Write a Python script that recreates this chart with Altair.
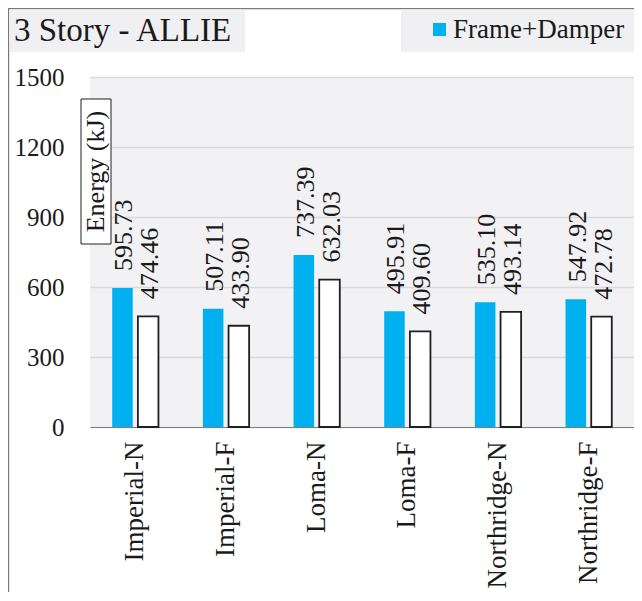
import altair as alt
import pandas as pd

categories = ["Imperial-N", "Imperial-F", "Loma-N", "Loma-F", "Northridge-N", "Northridge-F"]
frame_damper = [595.73, 507.11, 737.39, 495.91, 535.10, 547.92]
frame_only = [474.46, 433.90, 632.03, 409.60, 493.14, 472.78]
series_names = ["Frame+Damper", "Frame"]
y_ticks = [0, 300, 600, 900, 1200, 1500]
chart_title = "3 Story - ALLIE"
y_title = "Energy (kJ)"

rows = []
for c, a, b in zip(categories, frame_damper, frame_only):
    rows.append({"case": c, "series": series_names[0], "energy": a})
    rows.append({"case": c, "series": series_names[1], "energy": b})
df = pd.DataFrame(rows)
one = pd.DataFrame({"k": [0]})

FONT = "Liberation Serif"
TXT = "#1a1a1a"
W, H = 544, 350

x_enc = alt.X(
    "case:N", sort=categories,
    scale=alt.Scale(paddingInner=0.49, paddingOuter=0.245),
    axis=alt.Axis(title=None, labelAngle=270, labelFont=FONT, labelFontSize=27,
                  labelColor=TXT, labelPadding=14, ticks=False, labelLimit=300,
                  domainColor="#7f7f7f", domainWidth=1, grid=False),
)
y_enc = alt.Y(
    "energy:Q",
    scale=alt.Scale(domain=[0, 1500], nice=False),
    axis=alt.Axis(title=None, values=y_ticks, format="d", labelFont=FONT, labelFontSize=25,
                  labelColor=TXT, labelPadding=26, ticks=False, domain=False,
                  grid=True, gridColor="#D9D9D9", gridWidth=1.5),
)
xoff = alt.XOffset("series:N", scale=alt.Scale(domain=series_names, paddingInner=0.2))

bars = alt.Chart(df).mark_bar(strokeWidth=1.8).encode(
    x=x_enc, y=y_enc, xOffset=xoff,
    color=alt.Color(
        "series:N",
        scale=alt.Scale(domain=series_names, range=["#00B0F0", "#FFFFFF"]),
        legend=alt.Legend(values=["Frame+Damper"], orient="none", legendX=336, legendY=-61,
                          title=None, symbolType="square", symbolSize=169,
                          symbolStrokeWidth=0, labelFont=FONT, labelFontSize=27,
                          labelColor=TXT, labelOffset=0, labelLimit=400, padding=0),
    ),
    stroke=alt.Stroke("series:N",
                      scale=alt.Scale(domain=series_names, range=["transparent", "#231F20"]),
                      legend=None),
)

labels = alt.Chart(df).mark_text(
    angle=270, align="left", baseline="middle", dx=17, dy=2,
    font=FONT, fontSize=26, color=TXT,
).encode(x=x_enc, y=y_enc, xOffset=xoff, text=alt.Text("energy:Q", format=".2f"))

border_left = alt.Chart(one).mark_rule(color="#7a7a7a", strokeWidth=1.2).encode(
    x=alt.value(-81.4), y=alt.value(-69), y2=alt.value(H + 170))
border_top = alt.Chart(one).mark_rule(color="#7a7a7a", strokeWidth=1.2).encode(
    x=alt.value(-82), x2=alt.value(W + 2), y=alt.value(-68.4))

title_box = alt.Chart(one).mark_rect(fill="#F0F0F2").encode(
    x=alt.value(-80.5), x2=alt.value(155), y=alt.value(-67.5), y2=alt.value(-25))
title_text = alt.Chart(one).mark_text(
    align="left", baseline="alphabetic", font=FONT, fontSize=33, color=TXT,
).encode(x=alt.value(-76), y=alt.value(-36), text=alt.value(chart_title))

legend_box = alt.Chart(one).mark_rect(fill="#F0F0F2").encode(
    x=alt.value(311), x2=alt.value(W + 2), y=alt.value(-67.5), y2=alt.value(-25))

ytitle_box = alt.Chart(one).mark_rect(fill="white", stroke="#231F20", strokeWidth=1).encode(
    x=alt.value(-9), x2=alt.value(21), y=alt.value(22), y2=alt.value(167))
ytitle_text = alt.Chart(one).mark_text(
    angle=270, align="center", baseline="middle", font=FONT, fontSize=26, color=TXT,
).encode(x=alt.value(6), y=alt.value(94.5), text=alt.value(y_title))

chart = alt.layer(
    border_left, border_top, title_box, title_text, legend_box,
    bars, labels, ytitle_box, ytitle_text,
).properties(
    width=W, height=H,
    autosize=alt.AutoSizeParams(type="none"),
    padding={"left": 82, "top": 69, "right": 0, "bottom": 165},
    background="white",
).configure_view(fill="#F2F2F4", strokeWidth=0)

chart.save("out.html", embed_options={"renderer": "svg", "actions": False})
